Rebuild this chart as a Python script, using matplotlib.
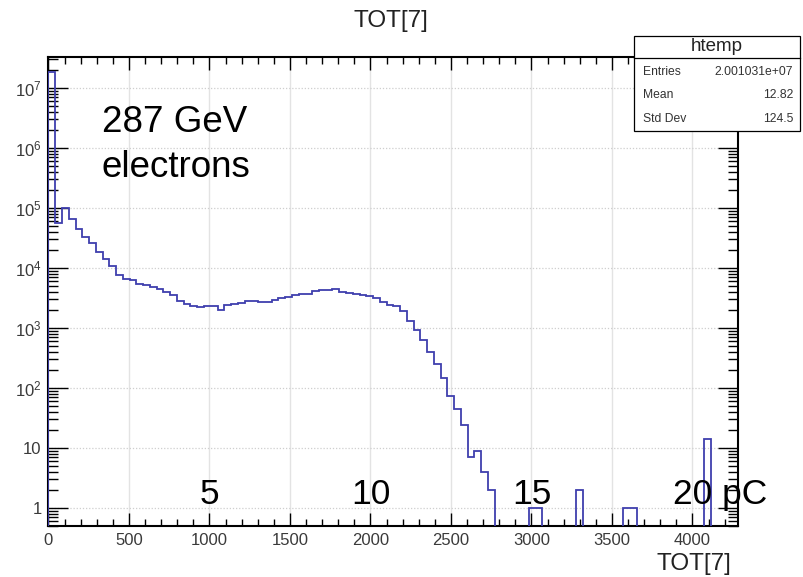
import numpy as np
import matplotlib
matplotlib.use("Agg")
import matplotlib.pyplot as plt
from matplotlib.patches import Rectangle
from matplotlib.ticker import FixedLocator, FixedFormatter, MultipleLocator, LogLocator, NullFormatter

plt.rcParams['font.family'] = ['Liberation Sans', 'DejaVu Sans']
plt.rcParams['mathtext.fontset'] = 'custom'
plt.rcParams['mathtext.rm'] = 'Liberation Sans'
plt.rcParams['mathtext.it'] = 'Liberation Sans:italic'
plt.rcParams['mathtext.bf'] = 'Liberation Sans:bold'

# histogram of TOT[7], 102 bins of width 42 from 0
bin_width = 42
counts = [
    1.8e7, 5.5e4, 1.0e5, 6.6e4, 4.4e4, 3.3e4, 2.6e4, 1.85e4, 1.4e4, 1.07e4,
    7.5e3, 6.6e3, 6.2e3, 5.4e3, 5.1e3, 4.8e3, 4.4e3, 4.0e3, 3.5e3, 2.8e3,
    2.5e3, 2.35e3, 2.2e3, 2.35e3, 2.35e3, 2.0e3, 2.4e3, 2.5e3, 2.6e3, 2.8e3,
    2.85e3, 2.7e3, 2.75e3, 2.95e3, 3.15e3, 3.3e3, 3.55e3, 3.6e3, 3.6e3, 4.1e3,
    4.2e3, 4.2e3, 4.45e3, 3.95e3, 3.8e3, 3.7e3, 3.55e3, 3.35e3, 3.1e3, 2.75e3,
    2.45e3, 2.3e3, 1.9e3, 1.3e3, 930, 630, 390, 255, 144, 72,
    45, 24, 7, 9, 4, 2, 0, 0, 0, 0,
    0, 1, 1, 0, 0, 0, 0, 0, 2, 0,
    0, 0, 0, 0, 0, 1, 1, 0, 0, 0,
    0, 0, 0, 0, 0, 0, 0, 14, 0, 0,
    0, 0,
]

stats_labels = ["Entries", "Mean", "Std Dev"]
stats_values = ["2.001031e+07", "12.82", "124.5"]

charge_labels = ["5", "10", "15"]
charge_pos = [1000, 2000, 3000]

W, H = 804, 577
fig = plt.figure(figsize=(W / 100, H / 100), dpi=100)


def fx(px):
    return px / W


def fy(py):
    return 1 - py / H


ax = fig.add_axes([fx(48.5), fy(526), (738.3 - 48.5) / W, (526 - 56.7) / H])

edges = np.arange(len(counts) + 1) * bin_width
vals = np.array(counts, dtype=float)
vals[vals <= 0] = 1e-3
ax.stairs(vals, edges, baseline=1e-3, color="#3f3fae", lw=1.3, zorder=3)

ax.set_yscale("log")
ax.set_xlim(0, 4285)
ax.set_ylim(0.5, 3.3e7)

# grid
for xv in range(500, 4001, 500):
    ax.axvline(xv, color="#e3e3e3", lw=1.0, zorder=1)
for k in range(0, 8):
    ax.axhline(10 ** k, color="#cfcfcf", lw=0.9, ls=(0, (1, 1.5)), zorder=1)

ax.xaxis.set_major_locator(MultipleLocator(500))
ax.xaxis.set_minor_locator(MultipleLocator(100))
ax.yaxis.set_major_locator(FixedLocator([10 ** k for k in range(8)]))
ax.yaxis.set_major_formatter(FixedFormatter(
    ["1", "10"] + [r"$10^{%d}$" % k for k in range(2, 8)]))
ax.yaxis.set_minor_locator(LogLocator(base=10, subs=np.arange(2, 10), numticks=20))
ax.yaxis.set_minor_formatter(NullFormatter())

ax.tick_params(axis="x", which="major", direction="in", length=9.4, width=1.0,
               top=True, bottom=True, labelsize=12, labelcolor="#3a3a3a", pad=5)
ax.tick_params(axis="x", which="minor", direction="in", length=5, width=1.0,
               top=True, bottom=True)
ax.tick_params(axis="y", which="major", direction="in", length=14.4, width=1.0,
               left=True, right=True, labelsize=12, labelcolor="#3a3a3a", pad=5)
ax.tick_params(axis="y", which="minor", direction="in", length=7.2, width=1.0,
               left=True, right=True)
for sp in ax.spines.values():
    sp.set_linewidth(1.5)

# titles
fig.text(fx(391), fy(26.7), "TOT[7]", ha="center", va="baseline", fontsize=17.5, color="#222222")
fig.text(fx(731.7), fy(570), "TOT[7]", ha="right", va="baseline", fontsize=17.5, color="#222222")

# annotations
fig.text(fx(102), fy(131.7), "287 GeV", ha="left", va="baseline", fontsize=26.5, color="black")
fig.text(fx(102), fy(176.7), "electrons", ha="left", va="baseline", fontsize=26.5, color="black")

trans = ax.get_xaxis_transform()
base_y = (526 - 504) / (526 - 56.7)
for lab, xv in zip(charge_labels, charge_pos):
    ax.text(xv, base_y, lab, transform=trans, ha="center", va="baseline",
            fontsize=25.5, color="black", zorder=4)
ax.text(3882, base_y, "20 pC", transform=trans, ha="left", va="baseline",
        fontsize=25.5, color="black", zorder=4, clip_on=False)

# stats box
bx0, bx1, by0, by1 = 634.3, 800, 35.7, 131
fig.add_artist(Rectangle((fx(bx0), fy(by1)), (bx1 - bx0) / W, (by1 - by0) / H,
                         transform=fig.transFigure, facecolor="white",
                         edgecolor="black", lw=0.9, zorder=5))
fig.add_artist(plt.Line2D([fx(bx0), fx(bx1)], [fy(57.7), fy(57.7)],
                          transform=fig.transFigure, color="black", lw=0.9, zorder=6))
fig.text(fx((bx0 + bx1) / 2), fy(46.7), "htemp", ha="center", va="center",
         fontsize=13.5, color="#222222", zorder=7)
for i, (lab, val) in enumerate(zip(stats_labels, stats_values)):
    yy = 72 + i * 23.5
    fig.text(fx(643.3), fy(yy), lab, ha="left", va="center", fontsize=8.7,
             color="#333333", zorder=7)
    fig.text(fx(793.3), fy(yy), val, ha="right", va="center", fontsize=8.7,
             color="#333333", zorder=7)

fig.savefig("out.png", dpi=100)
